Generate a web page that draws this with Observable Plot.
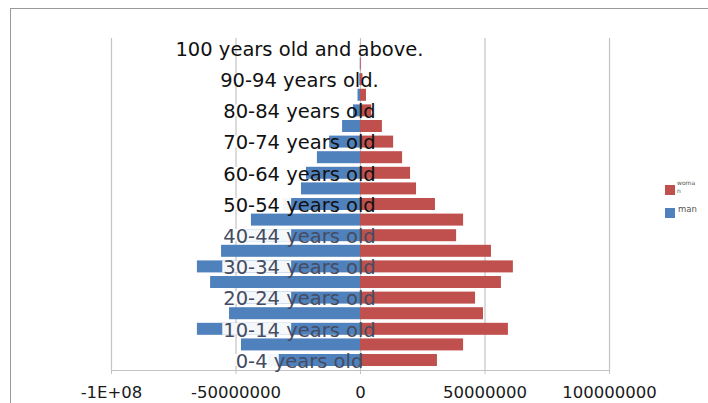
<!DOCTYPE html>
<html>
<head>
<meta charset="utf-8">
<script src="https://cdn.jsdelivr.net/npm/d3@7"></script>
<script src="https://cdn.jsdelivr.net/npm/@observablehq/plot@0.6"></script>
<style>
  html, body { margin: 0; padding: 0; background: #fff; }
  #wrap { position: relative; width: 708px; height: 403px; overflow: hidden; font-family: "DejaVu Sans", sans-serif; }
  #border { position: absolute; left: 10px; top: 8px; width: 760px; height: 460px; border: 1.5px solid #999; box-sizing: border-box; }
  #chart { position: absolute; left: 0; top: 0; }
  .swatch { position: absolute; width: 10px; height: 10px; }
  .lg { position: absolute; color: #555; line-height: 1; }
</style>
</head>
<body>
<div id="wrap">
  <div id="border"></div>
  <div id="chart"></div>
  <div class="swatch" style="left:665px;top:185px;background:#c0504d"></div>
  <div class="lg" style="left:677px;top:179px;font-size:6px;line-height:8px">woma<br>n</div>
  <div class="swatch" style="left:665px;top:208px;background:#4f81bd"></div>
  <div class="lg" style="left:678px;top:205px;font-size:8.5px">man</div>
</div>
<script>
// Five-year age groups, youngest first
const ageGroups = ["0-4", "5-9", "10-14", "15-19", "20-24", "25-29", "30-34", "35-39", "40-44", "45-49",
  "50-54", "55-59", "60-64", "65-69", "70-74", "75-79", "80-84", "85-89", "90-94", "95-99", "100+"];

// Population in millions
const menMillions = [37, 47.8, 65.5, 52.6, 49, 60.2, 65.5, 55.8, 48, 43.8,
  31, 23.7, 21.7, 17.3, 12.4, 7.2, 2.8, 1.0, 0.3, 0.1, 0.02];
const womenMillions = [30.9, 41.4, 59.4, 49.4, 46.2, 56.6, 61.4, 52.6, 38.6, 41.4,
  30.1, 22.5, 20.1, 16.9, 13.3, 8.8, 4.5, 2.4, 1.0, 0.3, 0.05];

// Category labels shown on every other group
const labelledGroups = ["0-4", "10-14", "20-24", "30-34", "40-44", "50-54", "60-64", "70-74", "80-84", "90-94", "100+"];
const groupLabels = ["0-4 years old", "10-14 years old", "20-24 years old", "30-34 years old", "40-44 years old",
  "50-54 years old", "60-64 years old", "70-74 years old", "80-84 years old", "90-94 years old.", "100 years old and above."];

// Value axis
const xTicks = [-1e8, -5e7, 0, 5e7, 1e8];
const xTickLabels = ["-1E+08", "-50000000", "0", "50000000", "100000000"];

const MAN = "#4f81bd", WOMAN = "#c0504d";

const men = ageGroups.map((g, i) => ({group: g, value: -menMillions[i] * 1e6}));
const women = ageGroups.map((g, i) => ({group: g, value: womenMillions[i] * 1e6}));
const labels = labelledGroups.map((g, i) => ({group: g, label: groupLabels[i], young: i < 5}));

const labelStyle = {x: 0, y: "group", text: "label", dx: -61, dy: 1, textAnchor: "middle", fontSize: 19.5};

const chart = Plot.plot({
  width: 708,
  height: 403,
  marginLeft: 111,
  marginRight: 99,
  marginTop: 38,
  marginBottom: 33,
  style: {fontFamily: "DejaVu Sans", background: "transparent"},
  x: {domain: [xTicks[0], xTicks[xTicks.length - 1]]},
  y: {domain: [...ageGroups].reverse(), paddingInner: 0, paddingOuter: 0.14, round: false, axis: null},
  marks: [
    Plot.ruleX(xTicks, {stroke: "#c3c3c3", strokeWidth: 1.2}),
    Plot.frame({anchor: "bottom", stroke: "#c3c3c3", strokeWidth: 1.2}),
    Plot.barX(men, {x: "value", y: "group", fill: MAN, insetTop: 1.8, insetBottom: 1.8}),
    Plot.barX(women, {x: "value", y: "group", fill: WOMAN, insetTop: 1.8, insetBottom: 1.8}),
    Plot.text(labels.filter(d => !d.young), {...labelStyle, fill: "#111"}),
    Plot.text(labels.filter(d => d.young), {...labelStyle, fill: "#454c62"}),
    Plot.axisX(xTicks, {
      anchor: "bottom", label: null, tickSize: 4, tickPadding: 12, fontSize: 16.5,
      stroke: "#c3c3c3", fill: "#1a1a1a",
      tickFormat: d => xTickLabels[xTicks.indexOf(d)]
    })
  ]
});

document.getElementById("chart").appendChild(chart);

// Each category label sits on a white plate behind its age range
const svg = chart.tagName.toLowerCase() === "svg" ? chart : chart.querySelector("svg");
const ns = "http://www.w3.org/2000/svg";
const yScale = chart.scale("y");
const plates = document.createElementNS(ns, "g");
let firstLabelGroup = null;
svg.querySelectorAll("text").forEach(t => {
  const idx = groupLabels.indexOf(t.textContent);
  if (idx < 0) return;
  if (!firstLabelGroup) firstLabelGroup = t.parentNode;
  const label = groupLabels[idx];
  const bb = t.getBBox();
  const m = t.getCTM();
  const x0 = m.a * bb.x + m.e;
  const prefix = label.split(" ")[0] + " ";
  const w = t.getSubStringLength(0, prefix.length) * m.a;
  let top, h;
  if (yScale && yScale.apply) {
    top = yScale.apply(labelledGroups[idx]) + 1.8;
    h = yScale.bandwidth - 3.6;
  } else {
    const mid = m.d * (bb.y + bb.height / 2) + m.f - 2;
    h = 12; top = mid - h / 2;
  }
  const r = document.createElementNS(ns, "rect");
  r.setAttribute("x", x0 - 1);
  r.setAttribute("y", top);
  r.setAttribute("width", w + 6);
  r.setAttribute("height", h);
  r.setAttribute("fill", "#fff");
  r.setAttribute("fill-opacity", 0.94);
  plates.appendChild(r);
});
if (firstLabelGroup) firstLabelGroup.parentNode.insertBefore(plates, firstLabelGroup);
</script>
</body>
</html>
